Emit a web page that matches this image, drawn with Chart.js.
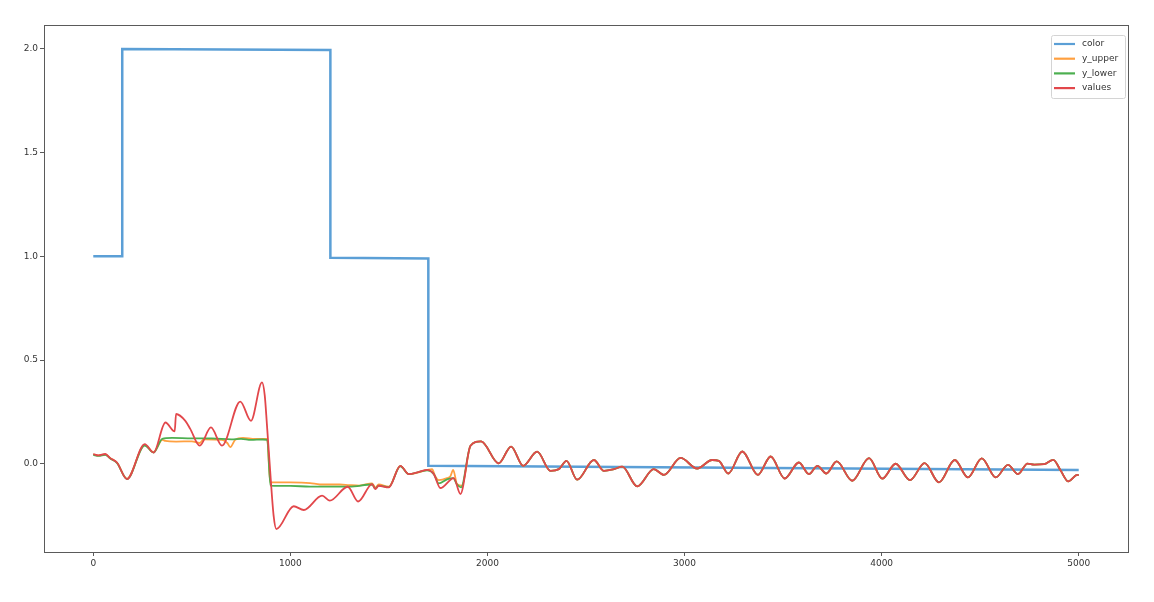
<!DOCTYPE html>
<html>
<head>
<meta charset="utf-8">
<script src="https://cdn.jsdelivr.net/npm/chart.js@4.4.1/dist/chart.umd.min.js"></script>
<style>
  html, body { margin: 0; padding: 0; background: #fff; }
  #wrap { width: 1154px; height: 602px; position: relative; }
</style>
</head>
<body>
<div id="wrap"><canvas id="chart"></canvas></div>
<script>
// ─── DATA ────────────────────────────────────────────────────
const colorX = [0, 147, 147, 1203, 1203, 1700, 1700, 5000];
const colorY = [1.0, 1.0, 2.0, 1.995, 0.993, 0.99, -0.01, -0.03];

const valueX = [0, 27, 61, 86, 120, 171, 261, 306, 366, 413, 420, 467, 492, 540, 597, 653,
  746, 800, 856, 870, 881, 895, 915, 929, 1017, 1068, 1161, 1200, 1291, 1344, 1415, 1431,
  1448, 1499, 1558, 1601, 1650, 1694, 1728, 1761, 1829, 1863, 1914, 1968, 2057, 2120, 2181,
  2252, 2320, 2362, 2401, 2455, 2540, 2591, 2642, 2684, 2760, 2844, 2895, 2980, 3064, 3140,
  3174, 3222, 3293, 3372, 3437, 3508, 3580, 3631, 3674, 3719, 3772, 3851, 3936, 4003, 4071,
  4144, 4218, 4291, 4371, 4438, 4508, 4579, 4641, 4692, 4740, 4774, 4824, 4871, 4909, 4947,
  4993, 5000];
const values = [0.047, 0.04, 0.047, 0.027, 0.006, -0.074, 0.095, 0.054, 0.199, 0.156, 0.24,
  0.207, 0.168, 0.087, 0.175, 0.087, 0.30, 0.207, 0.392, 0.33, 0.19, 0.0, -0.25, -0.315,
  -0.205, -0.223, -0.154, -0.178, -0.111, -0.182, -0.098, -0.122, -0.106, -0.114, -0.01,
  -0.05, -0.04, -0.03, -0.05, -0.117, -0.069, -0.146, 0.087, 0.108, 0.002, 0.083, -0.01,
  0.058, -0.034, -0.026, 0.014, -0.077, 0.018, -0.034, -0.026, -0.014, -0.109, -0.026,
  -0.054, 0.028, -0.023, 0.018, 0.014, -0.047, 0.059, -0.054, 0.035, -0.071, 0.006, -0.05,
  -0.01, -0.047, 0.011, -0.082, 0.027, -0.072, 0.0, -0.079, 0.003, -0.09, 0.018, -0.066,
  0.026, -0.066, -0.005, -0.05, 0.001, -0.004, -0.002, 0.019, -0.034, -0.085, -0.054, -0.055];

const upperX = [0, 27, 61, 86, 120, 171, 261, 306, 350, 366, 420, 500, 540, 560, 653, 680,
  695, 720, 760, 820, 882, 898, 1000, 1100, 1150, 1250, 1300, 1350, 1415, 1431, 1448, 1499,
  1558, 1601, 1694, 1719, 1735, 1753, 1795, 1812, 1826, 1846, 1871, 1914];
const yUpper = [0.045, 0.04, 0.045, 0.027, 0.006, -0.072, 0.09, 0.056, 0.115, 0.11, 0.107,
  0.108, 0.1, 0.118, 0.115, 0.1, 0.08, 0.115, 0.125, 0.12, 0.12, -0.09, -0.09, -0.093, -0.1,
  -0.1, -0.103, -0.105, -0.095, -0.115, -0.1, -0.11, -0.01, -0.05, -0.03, -0.026, -0.06,
  -0.079, -0.069, -0.06, -0.03, -0.098, -0.106, 0.087];

const lowerX = [0, 27, 61, 86, 120, 171, 261, 306, 350, 400, 500, 600, 700, 750, 800, 860,
  883, 899, 1000, 1100, 1200, 1300, 1415, 1431, 1448, 1499, 1558, 1601, 1694, 1728, 1753,
  1795, 1826, 1846, 1866, 1914];
const yLower = [0.043, 0.038, 0.043, 0.025, 0.004, -0.074, 0.088, 0.054, 0.12, 0.125, 0.122,
  0.122, 0.118, 0.12, 0.115, 0.117, 0.115, -0.105, -0.107, -0.11, -0.11, -0.11, -0.1, -0.12,
  -0.105, -0.113, -0.012, -0.05, -0.032, -0.05, -0.095, -0.075, -0.069, -0.1, -0.114, 0.087];

const xTicks = [0, 1000, 2000, 3000, 4000, 5000];
const yTicks = [0.0, 0.5, 1.0, 1.5, 2.0];

const seriesNames = ['color', 'y_upper', 'y_lower', 'values'];
const seriesColors = ['#5b9fd6', '#ffa040', '#4caf50', '#e2474b'];

// ─── HELPERS ─────────────────────────────────────────────────
const pts = (xs, ys) => xs.map((x, i) => ({ x, y: ys[i] }));
// past x=1914 the bands sit under the values line
const tail = pts(valueX, values).filter(p => p.x > 1914);

const FONT = "'DejaVu Sans', sans-serif";
const TEXT = '#333';

// matplotlib-like frame round the axes
const framePlugin = {
  id: 'frame',
  afterDatasetsDraw(chart) {
    const { ctx, chartArea: a } = chart;
    ctx.save();
    ctx.strokeStyle = '#5a5a5a';
    ctx.lineWidth = 1;
    ctx.strokeRect(a.left + 0.5, a.top + 0.5, a.right - a.left, a.bottom - a.top);
    ctx.restore();
  }
};

// legend box in upper right corner
const legendPlugin = {
  id: 'mplLegend',
  afterDraw(chart) {
    const { ctx, chartArea: a } = chart;
    const sets = chart.data.datasets;
    const w = 74, rowH = 14.7, h = 63;
    const x0 = a.right - w - 3, y0 = a.top + 10;
    ctx.save();
    ctx.fillStyle = 'rgba(255,255,255,0.85)';
    ctx.strokeStyle = '#d4d4d4';
    ctx.lineWidth = 1;
    ctx.beginPath();
    ctx.roundRect(x0 + 0.5, y0 + 0.5, w, h, 2);
    ctx.fill();
    ctx.stroke();
    ctx.font = '9px ' + FONT;
    ctx.textBaseline = 'middle';
    sets.forEach((ds, i) => {
      const y = y0 + 9 + i * rowH;
      ctx.strokeStyle = ds.borderColor;
      ctx.lineWidth = 2.2;
      ctx.beginPath();
      ctx.moveTo(x0 + 3, y);
      ctx.lineTo(x0 + 24, y);
      ctx.stroke();
      ctx.fillStyle = TEXT;
      ctx.fillText(ds.label, x0 + 31, y);
    });
    ctx.restore();
  }
};

const line = (i, data, extra) => Object.assign({
  label: seriesNames[i],
  data,
  borderColor: seriesColors[i],
  backgroundColor: seriesColors[i],
  borderWidth: 1.8,
  pointRadius: 0,
  fill: false,
  cubicInterpolationMode: 'monotone',
  order: 4 - i,
}, extra || {});

new Chart(document.getElementById('chart'), {
  type: 'line',
  data: {
    datasets: [
      line(0, pts(colorX, colorY), { borderWidth: 2.5, cubicInterpolationMode: 'default', tension: 0 }),
      line(1, pts(upperX, yUpper).concat(tail)),
      line(2, pts(lowerX, yLower).concat(tail)),
      line(3, pts(valueX, values)),
    ]
  },
  options: {
    responsive: true,
    maintainAspectRatio: false,
    animation: false,
    layout: { padding: { top: 25, right: 26, left: 0, bottom: 0 } },
    plugins: {
      legend: { display: false },
      tooltip: { enabled: false },
    },
    scales: {
      x: {
        type: 'linear',
        min: -250,
        max: 5250,
        afterBuildTicks: s => { s.ticks = xTicks.map(v => ({ value: v })); },
        afterFit: s => { s.height = 50; },
        grid: { display: true, drawOnChartArea: false, drawTicks: true, tickLength: 4, color: '#5a5a5a' },
        border: { display: false },
        ticks: {
          color: TEXT,
          font: { family: FONT, size: 9 },
          padding: 2,
          maxRotation: 0,
          callback: v => String(v),
        },
      },
      y: {
        type: 'linear',
        min: -0.4255,
        max: 2.1155,
        afterBuildTicks: s => { s.ticks = yTicks.map(v => ({ value: v })); },
        afterFit: s => { s.width = 44; },
        grid: { display: true, drawOnChartArea: false, drawTicks: true, tickLength: 4, color: '#5a5a5a' },
        border: { display: false },
        ticks: {
          color: TEXT,
          font: { family: FONT, size: 9 },
          padding: 2,
          callback: v => v.toFixed(1),
        },
      }
    }
  },
  plugins: [framePlugin, legendPlugin]
});
</script>
</body>
</html>
